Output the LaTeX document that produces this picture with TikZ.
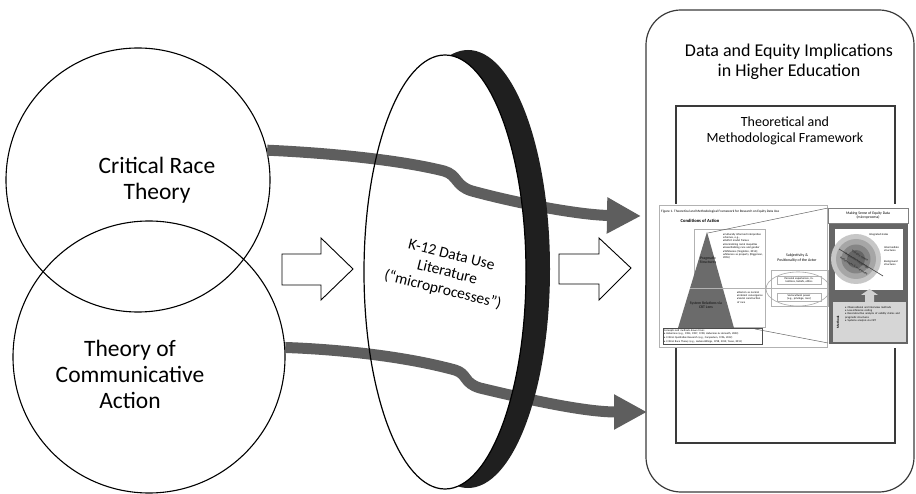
\documentclass[tikz,border=0pt]{standalone}
\usepackage{fontspec}
\setmainfont{Carlito}
\usetikzlibrary{arrows.meta,shapes.geometric}
\newcommand{\myfs}[2]{\fontsize{#1}{#2}\selectfont}
\definecolor{arrowgray}{HTML}{5E5E5E}
\definecolor{boxline}{HTML}{3A3A3A}
\begin{document}
\begin{tikzpicture}[x=1pt,y=-1pt,
  theory/.style={circle, draw=black, line width=1.1pt, inner sep=0pt},
  biglabel/.style={align=center, font=\myfs{23.5}{26}},
  gshaft/.style={draw=arrowgray, line width=11pt},
  harrow/.style={draw=black, line width=0.9pt, fill=white, line join=miter},
  tiny/.style={font=\myfs{2.8}{3.4}, inner sep=0pt},
  faint/.style={draw=black!30, line width=0.4pt},
  diag/.style={rotate=-32, font=\bfseries\myfs{3.1}{3.6}, text=black!80, inner sep=0pt}]
\useasboundingbox (0,0) rectangle (916,494);

% theory circles
\node[theory, minimum size=264pt] (crt) at (138,180) {};
\node[theory, minimum size=272pt] (tca) at (149,357) {};
\node[biglabel] (crtlabel) at (157,180) {Critical Race\\Theory};
\node[biglabel] (tcalabel) at (130,374) {Theory of\\Communicative\\Action};

% hollow arrows
\draw[harrow] (282,254) -- (321,254) -- (321,238) -- (353,269) -- (321,300) -- (321,285) -- (282,285) -- cycle;
\draw[harrow] (559,254) -- (599,254) -- (599,238) -- (631,268) -- (599,300) -- (599,284) -- (559,284) -- cycle;

% right big box
\node[draw=boxline, line width=1.2pt, rounded corners=35pt, minimum width=268pt, minimum height=482pt, inner sep=0pt] (hebox) at (780,251) {};
\node[align=center, font=\myfs{18}{20.5}] (hetitle) at (789,62) {Data and Equity Implications\\in Higher Education};
\node[draw=boxline, line width=1.1pt, minimum width=219pt, minimum height=337pt, inner sep=0pt] (tmf) at (785.5,274.5) {};
\node[align=center, font=\myfs{14}{16.5}] (tmftitle) at (785,131) {Theoretical and\\Methodological Framework};

% gray arrows
\coordinate (t1) at (641,216);
\coordinate (t2) at (647,412);
\draw[gshaft, -{Triangle[length=34pt,width=34pt]}] (crt.13) .. controls (330,153) and (400,160) .. (444,171) .. controls (458,175) and (455,186) .. (472,191) .. controls (520,204) and (580,215) .. (t1);
\draw[gshaft, -{Triangle[length=33pt,width=33pt]}] (tca.4) .. controls (330,349) and (400,355) .. (455,370) .. controls (468,374) and (463,383) .. (480,388) .. controls (530,400) and (585,412) .. (t2);

% lens
\begin{scope}
  \clip (468,269) ellipse [x radius=82, y radius=219];
  \fill[black!88, even odd rule] (300,0) rectangle (700,494) (445,272) ellipse [x radius=81, y radius=217];
\end{scope}
\node[ellipse, draw=black, line width=1.2pt, minimum width=162pt, minimum height=434pt, inner sep=0pt] (lens) at (445,272) {};
\node[rotate=-14, align=center, font=\myfs{15.5}{18}] (lenslabel) at (447,273) {K-12 Data Use\\Literature\\(“microprocesses”)};

% ---------- embedded framework figure ----------
\fill[white] (658,204) rectangle (909,348);
\draw[faint] (659,205) rectangle (827,347);
\node[anchor=west, font=\myfs{3.4}{4}, inner sep=0pt] (cap) at (661,212) {Figure 1. Theoretical and Methodological Framework for Research on Equity Data Use};
\node[font=\bfseries\myfs{4.6}{5}] (coa) at (700,221) {Conditions of Action};
\draw[faint] (694,229) rectangle (765,327);
\fill[black!58] (707,232) -- (734,328) -- (678,328) -- cycle;
\draw[black!30, line width=0.5pt] (690,288) -- (828,288);
\node[align=center, font=\bfseries\myfs{3.8}{4.5}, text=black!85] (prag) at (708,260) {Pragmatic\\Structures};
\node[align=center, font=\bfseries\myfs{3.8}{4.5}, text=black!85] (sysrel) at (706,305) {System Relations via\\CRT Lens};
\node[tiny, anchor=north west, text width=40pt, align=left] (bul1) at (723,233) {\textbullet Culturally informed interpretive schemes, e.g.,\\ \textbullet Deficit model frames\\ \textbullet Normalizing racial inequities\\ \textbullet Essentializing race and gender\\ \textbullet Whiteness (Singleton, 2014); whiteness as property (Diggerson, 2016)};
\node[tiny, anchor=north west, text width=26pt, align=left] (bul2) at (737,291) {\textbullet Racism as normal\\ \textbullet Interest convergence\\ \textbullet Social construction of race};
\node[align=center, font=\myfs{3.9}{4.7}] (subj) at (797,258) {Subjectivity \&\\Positionality of the Actor};
\draw[faint] (771,270) rectangle (828,306);
\node[ellipse, draw=black!35, line width=0.6pt, minimum width=64pt, minimum height=34pt, inner sep=0pt] (subjell) at (798,289) {};
\node[tiny, draw=black!30, line width=0.2pt, inner sep=0.8pt, text width=42pt, align=center] (pers) at (799,280) {Personal experiences, intentions, beliefs, ethics};
\node[tiny, draw=black!30, line width=0.2pt, inner sep=0.8pt, text width=42pt, align=center] (socio) at (799,297) {Sociocultural power (e.g., privilege, race)};
\draw[black!60, line width=0.5pt] (708,233) -- (828,208);
\draw[black!60, line width=0.5pt] (755,329) -- (828,343);
\node[draw=black!70, line width=0.4pt, anchor=north west, text width=97pt, inner sep=1pt, align=left, font=\myfs{2.7}{3.9}] (concepts) at (663,328) {Concepts and methods drawn from:\\ \textbullet\ Habermas (e.g., 1984, 1987, 1990; Habermas \& Honneth, 2003)\\ \textbullet\ Critical Qualitative Research (e.g., Carspecken, 1996, 2012)\\ \textbullet\ Critical Race Theory (e.g., Ladson-Billings, 1998, 2013; Yosso, 2013)};
% right panel
\node[draw=black!50, line width=0.4pt, minimum width=80pt, minimum height=15pt, inner sep=0pt, align=center, font=\myfs{3.8}{4.6}] (making) at (868,215.5) {Making Sense of Equity Data\\(microprocess)};
\fill[black!60] (829,224) rectangle (908,344);
\fill[white] (835,229) rectangle (903,290);
\fill[black!22] (856,259) circle (25);
\fill[black!35] (856,259) circle (20);
\fill[black!48] (856,259) circle (14.5);
\fill[black!60] (856,259) circle (9);
\draw[black!75, line width=0.6pt] (839,249) -- (883,276);
\node[diag] (valid1) at (860,256) {Validity claims};
\node[diag] (valid2) at (857,261) {Pragmatic knowledge};
\node[diag] (valid3) at (854,266) {Preferences \& Inferences};
\node[tiny, anchor=west] (integ) at (869,235) {Integrated states};
\node[tiny, anchor=west, align=left] (interm) at (884,249) {Intermediate\\structures};
\node[tiny, anchor=west, align=left] (backg) at (884,263) {Background\\structures};
\fill[black!18] (865,302) -- (865,295) -- (861,295) -- (869.5,289) -- (878,295) -- (874,295) -- (874,302) -- cycle;
\fill[black!16] (833,302) rectangle (906,342);
\node[rotate=90, font=\bfseries\myfs{3.4}{4}, inner sep=0pt] (methods) at (838,322) {Methods};
\node[tiny, anchor=north west, text width=58pt, align=left] (methbul) at (845,306) {\textbullet\ Observational and interview methods\\ \textbullet\ Low-inference coding\\ \textbullet\ Reconstructive analysis of validity claims and pragmatic structures\\ \textbullet\ Systems analysis via CRT};
\end{tikzpicture}
\end{document}
